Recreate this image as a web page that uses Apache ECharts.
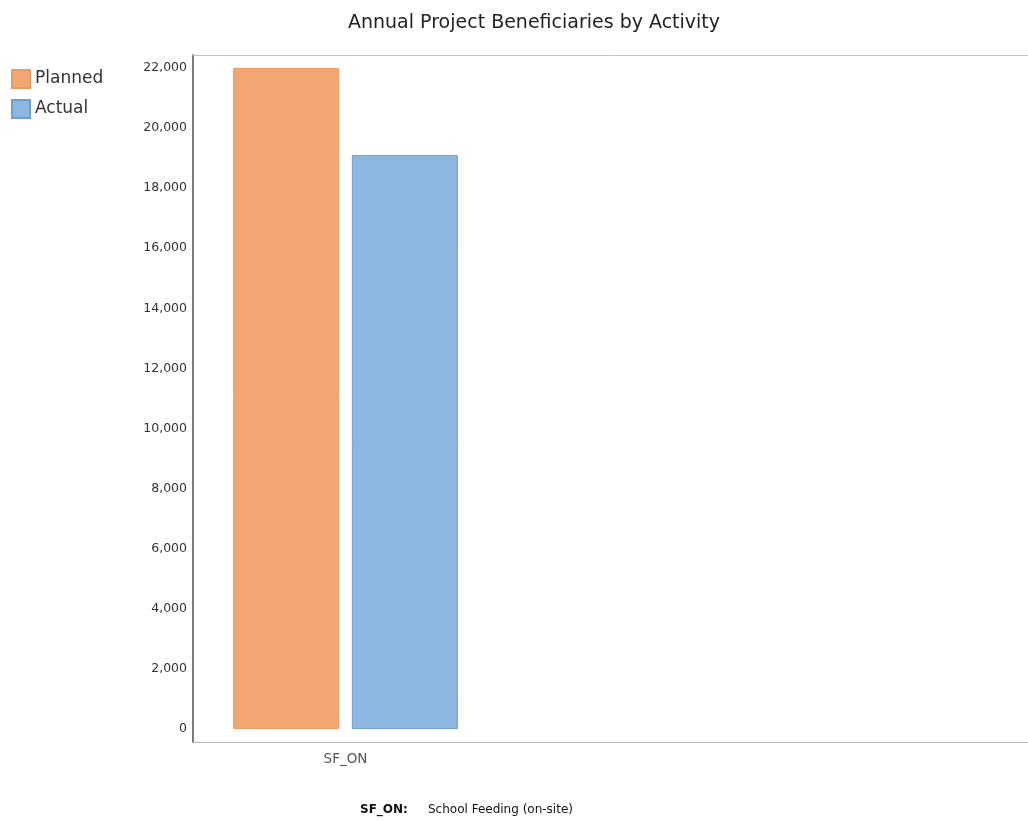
<!DOCTYPE html>
<html>
<head>
<meta charset="utf-8">
<script src="https://cdn.jsdelivr.net/npm/echarts@6/dist/echarts.min.js"></script>
<style>
  html, body { margin: 0; padding: 0; background: #fff; }
  #chart { width: 1028px; height: 821px; }
</style>
</head>
<body>
<div id="chart"></div>
<script>
// Activity codes on the category axis
const categories = ['SF_ON'];
// Beneficiary counts per activity
const planned = [22000];
const actual = [19100];
// Value-axis tick labels
const yTicks = [0, 2000, 4000, 6000, 8000, 10000, 12000, 14000, 16000, 18000, 20000, 22000];
// Footnote: activity code and its description
const activityCodes = ['SF_ON:'];
const activityNames = ['School Feeding (on-site)'];

const FONT = '"DejaVu Sans", "Liberation Sans", Arial, sans-serif';
const Y_MIN = -430, Y_MAX = 22430;

const chart = echarts.init(document.getElementById('chart'), null, { renderer: 'canvas' });

chart.setOption({
  animation: false,
  backgroundColor: '#ffffff',
  title: {
    text: 'Annual Project Beneficiaries by Activity',
    left: 343,
    top: 9,
    textStyle: { fontFamily: FONT, fontSize: 19, fontWeight: 'normal', color: '#222' }
  },
  legend: {
    orient: 'vertical',
    left: 6,
    top: 64,
    itemWidth: 18,
    itemHeight: 18,
    itemGap: 10,
    icon: 'rect',
    textStyle: { fontFamily: FONT, fontSize: 17, color: '#333', lineHeight: 18 },
    data: ['Planned', 'Actual']
  },
  grid: [
    // bars
    { left: 193, top: 55, width: 305, bottom: 79, containLabel: false },
    // full-width frame lines
    { left: 193, top: 55, right: 0, bottom: 79, containLabel: false }
  ],
  xAxis: [
    {
      type: 'category',
      gridIndex: 0,
      data: categories,
      axisLine: { show: false },
      axisTick: { show: false },
      axisLabel: { fontFamily: FONT, fontSize: 13.5, color: '#555', margin: 10 }
    },
    {
      type: 'category',
      gridIndex: 1,
      position: 'bottom',
      data: [],
      axisLine: { show: true, onZero: false, lineStyle: { color: '#b4b4b4', width: 1 } },
      axisTick: { show: false },
      axisLabel: { show: false }
    },
    {
      type: 'category',
      gridIndex: 1,
      position: 'top',
      data: [],
      axisLine: { show: true, onZero: false, lineStyle: { color: '#c4c4c4', width: 1 } },
      axisTick: { show: false },
      axisLabel: { show: false }
    }
  ],
  yAxis: [
    {
      type: 'value',
      gridIndex: 0,
      min: Y_MIN,
      max: Y_MAX,
      axisLine: { show: true, lineStyle: { color: '#7a7a7a', width: 2 } },
      axisTick: { show: false },
      splitLine: { show: false },
      axisLabel: {
        customValues: yTicks,
        fontFamily: FONT,
        fontSize: 12.5,
        color: '#333',
        margin: 6,
        formatter: v => v.toLocaleString('en-US')
      }
    },
    {
      type: 'value',
      gridIndex: 1,
      min: Y_MIN,
      max: Y_MAX,
      show: false
    }
  ],
  series: [
    {
      name: 'Planned',
      type: 'bar',
      xAxisIndex: 0,
      yAxisIndex: 0,
      data: planned,
      barWidth: 106,
      barGap: '12%',
      itemStyle: { color: '#f2a672', borderColor: '#ee9a60', borderWidth: 1 }
    },
    {
      name: 'Actual',
      type: 'bar',
      xAxisIndex: 0,
      yAxisIndex: 0,
      data: actual,
      barWidth: 106,
      barGap: '12%',
      itemStyle: { color: '#8bb7e1', borderColor: '#6c9fd2', borderWidth: 1 }
    }
  ],
  graphic: activityCodes.map((code, i) => [
    {
      type: 'text',
      left: 360,
      top: 804 + i * 16,
      style: { text: code, font: 'bold 12px ' + FONT, fill: '#111' }
    },
    {
      type: 'text',
      left: 428,
      top: 804 + i * 16,
      style: { text: activityNames[i], font: '12px ' + FONT, fill: '#111' }
    }
  ]).flat()
});
</script>
</body>
</html>
